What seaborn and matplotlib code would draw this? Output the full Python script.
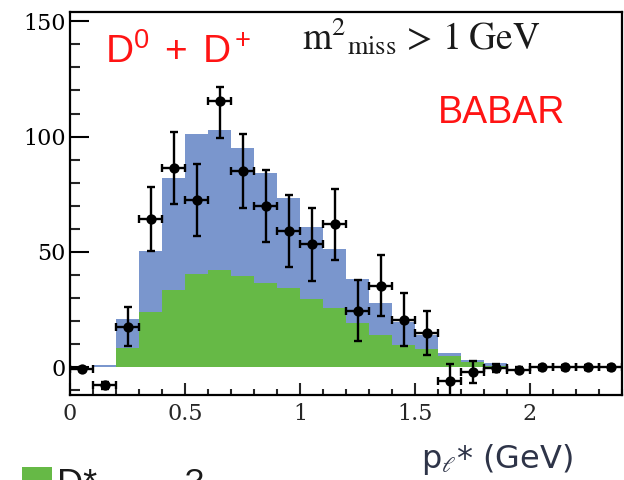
import matplotlib
matplotlib.use("Agg")
import matplotlib.pyplot as plt
import seaborn as sns
from matplotlib.ticker import MultipleLocator
from matplotlib.patches import Rectangle

# ---------------- data ----------------
bin_edges = [0.0, 0.1, 0.2, 0.3, 0.4, 0.5, 0.6, 0.7, 0.8, 0.9, 1.0, 1.1, 1.2,
             1.3, 1.4, 1.5, 1.6, 1.7, 1.8, 1.9, 2.0, 2.1, 2.2, 2.3, 2.4]
centers = [0.05, 0.15, 0.25, 0.35, 0.45, 0.55, 0.65, 0.75, 0.85, 0.95, 1.05, 1.15,
           1.25, 1.35, 1.45, 1.55, 1.65, 1.75, 1.85, 1.95, 2.05, 2.15, 2.25, 2.35]
# total fit (blue, stacked top)
total_fit = [0.0, 1.0, 21.0, 50.3, 82.2, 101.0, 102.7, 95.2, 84.4, 73.6, 60.7, 51.4,
             38.4, 27.9, 19.5, 14.0, 6.4, 3.2, 1.8, 0.0, 0.0, 0.0, 0.0, 0.0]
# D* l nu component (green)
dstar_fit = [0.0, 0.0, 8.3, 24.0, 33.4, 40.3, 42.2, 39.4, 36.6, 34.5, 29.6, 25.8,
             19.0, 14.0, 9.7, 7.8, 4.7, 2.5, 0.6, 0.0, 0.0, 0.0, 0.0, 0.0]
# data points
data_y = [-0.8, -7.8, 17.6, 64.3, 86.3, 72.5, 115.6, 85.1, 70.0, 59.0, 53.4, 61.9,
          24.6, 35.4, 20.7, 15.0, -5.9, -2.0, -0.3, -1.0, 0.0, 0.0, 0.0, 0.0]
err_lo = [1.0, 1.5, 8.4, 13.7, 15.7, 15.5, 16.0, 16.0, 15.7, 15.5, 15.8, 15.5,
          13.2, 13.2, 11.3, 9.6, 7.5, 4.7, 1.8, 1.0, 1.0, 1.0, 1.0, 1.0]
err_hi = [1.0, 1.5, 8.4, 13.7, 15.7, 15.5, 6.0, 16.0, 15.7, 15.5, 15.8, 15.5,
          13.2, 13.2, 11.3, 9.6, 7.5, 4.7, 1.8, 1.0, 1.0, 1.0, 1.0, 1.0]
half_bin = [0.05] * 24

x_ticks = [0, 0.5, 1, 1.5, 2]
x_ticklabels = ["0", "0.5", "1", "1.5", "2"]
y_ticks = [0, 50, 100, 150]
y_ticklabels = ["0", "50", "100", "150"]

BLUE = "#7a96cd"
GREEN = "#66b946"

sns.set_style("ticks")
plt.rcParams["mathtext.fontset"] = "stix"

fig = plt.figure(figsize=(6.24, 4.8), dpi=100)
ax = fig.add_axes([70 / 624, 85 / 480, 552 / 624, 383 / 480])

sns.histplot(x=centers, weights=total_fit, bins=bin_edges, element="step",
             fill=True, color=BLUE, alpha=1, linewidth=0, ax=ax, zorder=1)
sns.histplot(x=centers, weights=dstar_fit, bins=bin_edges, element="step",
             fill=True, color=GREEN, alpha=1, linewidth=0, ax=ax, zorder=2)

ax.errorbar(centers, data_y, yerr=[err_lo, err_hi], xerr=half_bin, fmt="none",
            ecolor="black", elinewidth=1.7, capsize=2.6, capthick=1.7, zorder=4)
sns.scatterplot(x=centers, y=data_y, color="black", s=55, edgecolor="black",
                linewidth=0, ax=ax, zorder=5)

ax.set_xlim(0, 2.4)
ax.set_ylim(-12, 154)
ax.set_xlabel("")
ax.set_ylabel("")

ax.set_xticks(x_ticks)
ax.set_xticklabels(x_ticklabels, family="DejaVu Serif", fontsize=16)
ax.set_yticks(y_ticks)
ax.set_yticklabels(y_ticklabels, family="DejaVu Serif", fontsize=16)
ax.xaxis.set_minor_locator(MultipleLocator(0.1))
ax.yaxis.set_minor_locator(MultipleLocator(10))
ax.tick_params(axis="y", which="major", direction="in", length=14, width=1.5,
               pad=3, colors="black", right=False)
ax.tick_params(axis="y", which="minor", direction="in", length=7, width=1.5,
               right=False)
ax.tick_params(axis="x", which="major", direction="in", length=9, width=1.5,
               pad=6, top=False)
ax.tick_params(axis="x", which="minor", direction="in", length=4.5, width=1.5,
               top=False)
for sp in ax.spines.values():
    sp.set_visible(True)
    sp.set_linewidth(1.6)
    sp.set_color("black")

W, H = 624, 480
fig.text(105 / W, 1 - 63 / H, r"$\mathregular{D^0\ +\ D^+}$", color="#ff1414",
         fontsize=28, family="Liberation Sans", va="baseline", ha="left")
fig.text(302 / W, 1 - 50 / H,
         r"$\mathrm{m}^{2}{}_{\mathrm{miss}}\,>\,1\;\mathrm{GeV}$",
         color="#1a1a1a", fontsize=27, va="baseline", ha="left")
fig.text(438 / W, 1 - 123 / H, "BABAR", color="#ff1414", fontsize=27,
         family="Liberation Sans", va="baseline", ha="left")
fig.text(421 / W, 1 - 468 / H, r"p$_\ell$* (GeV)", color="#2e3448", fontsize=23,
         family="DejaVu Sans", va="baseline", ha="left")

# legend at the bottom edge (cropped in the reference)
fig.patches.append(Rectangle((22 / W, 0), 30 / W, 13 / H, transform=fig.transFigure,
                             facecolor=GREEN, edgecolor="none"))
fig.text(57 / W, 1 - 468 / H, r"D*", color="#1a1a1a", fontsize=26,
         family="Liberation Sans", va="top", ha="left")
fig.text(185 / W, 1 - 468 / H, "?", color="#1a1a1a", fontsize=24,
         family="Liberation Sans", va="top", ha="left")

fig.savefig("out.png", dpi=100)
